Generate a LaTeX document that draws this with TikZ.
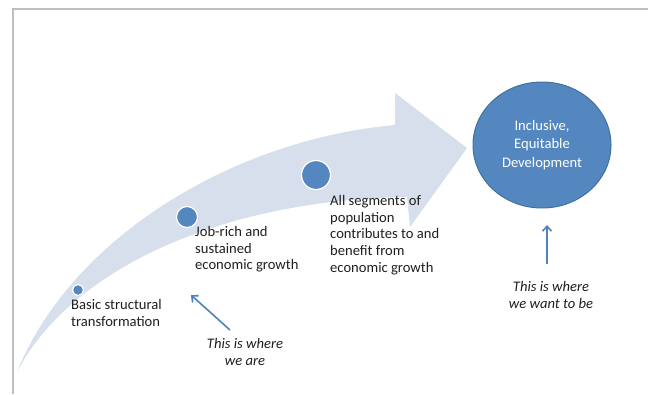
\documentclass[tikz,border=0pt]{standalone}
\usepackage{fontspec}
\setmainfont{Carlito}
\usetikzlibrary{arrows.meta,shapes.geometric}
\definecolor{bandfill}{HTML}{D6DFEB}
\definecolor{dotblue}{HTML}{5487C0}
\definecolor{ringblue}{HTML}{41719C}
\definecolor{arrowblue}{HTML}{4F81BD}
\definecolor{framegray}{HTML}{BFBFBF}
\definecolor{txt}{HTML}{1F1F1F}
\tikzset{
  dot/.style={circle, fill=dotblue, draw=white, line width=1.2pt, inner sep=0pt},
  lbl/.style={anchor=north west, align=left, font=\fontsize{14.6}{16.7}\selectfont, text=txt, inner sep=0pt},
  note/.style={anchor=north, align=center, font=\fontsize{14.6}{16.7}\selectfont\itshape, text=txt, inner sep=0pt},
  pointer/.style={draw=arrowblue, line width=1.6pt, -{Straight Barb[length=5pt,width=9pt]}},
}
\begin{document}
\begin{tikzpicture}[x=1pt,y=-1pt]
\useasboundingbox (0,0) rectangle (648,394);
% frame
\draw[framegray, line width=1.5pt] (13,394) -- (13,9) -- (648,9);
% curved band arrow
\fill[bandfill] (17,372) .. controls (70,240) and (230,140) .. (395,125)
  -- (395,93) -- (467,148) -- (410,227) -- (407,197)
  .. controls (220,200) and (70,270) .. (17,372) -- cycle;
% dots
\node[dot, minimum size=11pt] (d1) at (78,290) {};
\node[dot, minimum size=21pt] (d2) at (187,217) {};
\node[dot, minimum size=29pt] (d3) at (316,175) {};
% goal
\node[ellipse, fill=dotblue, draw=ringblue, line width=1pt, minimum width=138pt, minimum height=126pt,
      text=white, align=center, font=\fontsize{14.6}{18.3}\selectfont] (goal) at (542,145)
      {Inclusive,\\Equitable\\Development};
% labels
\node[lbl] (l1) at (71,299) {Basic structural\\transformation};
\node[lbl] (l2) at (195,226) {Job-rich and\\sustained\\economic growth};
\node[lbl] (l3) at (330,195) {All segments of\\population\\contributes to and\\benefit from\\economic growth};
\node[note] (n1) at (245,338) {This is where\\we are};
\node[note] (n2) at (551,281) {This is where\\we want to be};
% pointers
\coordinate (p1s) at (230,330);
\coordinate (p1e) at (191,295);
\coordinate (p2s) at (547,264);
\coordinate (p2e) at (547,225);
\draw[pointer] (p1s) -- (p1e);
\draw[pointer] (p2s) -- (p2e);
\end{tikzpicture}
\end{document}
